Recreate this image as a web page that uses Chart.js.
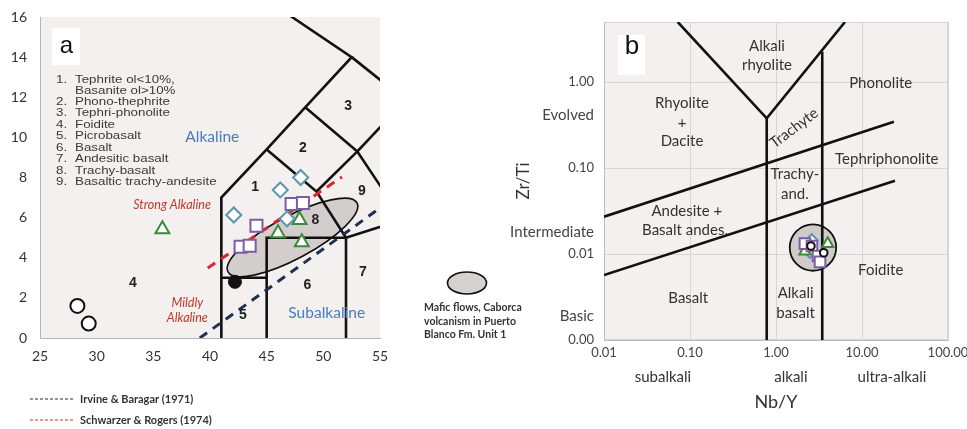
<!DOCTYPE html>
<html>
<head>
<meta charset="utf-8">
<script src="https://cdn.jsdelivr.net/npm/chart.js@4.4.1/dist/chart.umd.min.js"></script>
<style>
  html, body { margin: 0; padding: 0; background: #ffffff; width: 967px; height: 429px; overflow: hidden; }
  #tas { position: absolute; left: 0; top: 0; }
  #wf  { position: absolute; left: 490px; top: 0; }
</style>
</head>
<body>
<canvas id="tas" width="540" height="429"></canvas>
<canvas id="wf" width="477" height="429"></canvas>
<script>
// ---------------- Panel a: Na2O+K2O vs SiO2 (TAS) ----------------
const tasDiamonds  = [[42.1, 6.13], [46.2, 7.38], [48.0, 8.0], [46.8, 5.94]];
const tasSquares   = [[47.2, 6.68], [48.2, 6.73], [44.1, 5.6], [42.7, 4.55], [43.5, 4.6]];
const tasTriangles = [[35.8, 5.42], [46.0, 5.22], [47.9, 5.88], [48.1, 4.77]];
const tasCircles   = [[28.3, 1.6], [29.3, 0.72]];
const tasMean      = [[42.2, 2.8]];

// field boundaries (Le Bas et al.)
const tasBoundaries = [
  [[41, 0], [41, 7], [45, 9.4], [48.4, 11.5], [52.5, 14], [47.1, 16.05]],
  [[52.5, 14], [57.6, 11.7]],
  [[41, 3], [45, 3]],
  [[45, 0], [45, 5], [52, 5], [52, 0]],
  [[45, 9.4], [49.4, 7.3], [52, 5], [57, 5.9]],
  [[48.4, 11.5], [53, 9.3], [57, 11.7]],
  [[49.4, 7.3], [53, 9.3], [57, 5.9]]
];
const irvineBaragar   = [[39.1, 0], [55, 6.48]];
const schwarzerRogers = [[39.8, 3.49], [51.65, 8.03]];

// field of the Caborca mafic flows
const tasFieldCenter = [47.28, 5.01];
const tasFieldTip    = [52.97, 6.73];
const tasFieldAxisRatio = 0.29;

const tasXTicks = [25, 30, 35, 40, 45, 50, 55];
const tasYTicks = [0, 2, 4, 6, 8, 10, 12, 14, 16];

const tasFieldNames = [
  ['1.', 'Tephrite ol<10%,'],
  ['',   'Basanite ol>10%'],
  ['2.', 'Phono-thephrite'],
  ['3.', 'Tephri-phonolite'],
  ['4.', 'Foidite'],
  ['5.', 'Picrobasalt'],
  ['6.', 'Basalt'],
  ['7.', 'Andesitic basalt'],
  ['8.', 'Trachy-basalt'],
  ['9.', 'Basaltic trachy-andesite']
];
const tasFieldNumbers = [
  ['1', 43.98, 7.53], ['2', 48.2, 9.47], ['3', 52.2, 11.57],
  ['4', 33.2, 2.74], ['5', 42.9, 1.15], ['6', 48.6, 2.64],
  ['7', 53.5, 3.29], ['8', 49.3, 5.88], ['9', 53.4, 7.33]
];

// ---------------- Panel b: Zr/Ti vs Nb/Y ----------------
const nbySquares   = [[2.17, 0.0132], [2.62, 0.0124], [3.08, 0.0095], [3.25, 0.0081]];
const nbyDiamonds  = [[2.60, 0.01445], [2.48, 0.01057]];
const nbyTriangles = [[3.99, 0.0132], [2.17, 0.01076]];
const nbyCircles   = [[2.55, 0.0124], [3.59, 0.01035]];

const wfBoundaries = [
  [[0.072, 5], [0.78, 0.379], [6.34, 5]],
  [[0.78, 0.379], [0.78, 0.001]],
  [[3.45, 2.26], [3.45, 0.001]],
  [[0.01, 0.0272], [23.5, 0.346]],
  [[0.01, 0.0057], [24.2, 0.0713]]
];
const wfFieldCenter = [2.69, 0.0119];
const wfFieldRadiusDecades = 0.27;

// Nb/Y axis: decade values plus the alkalinity classes below them
const nbyTicks = [0.01, 0.0485, 0.1, 1, 1.49, 10, 22.3, 100];
const nbyTickLabels = ['0.01', ['', 'subalkali'], '0.10', '1.00', ['', 'alkali'], '10.00', ['', 'ultra-alkali'], '100.00'];
const zrTiTicks = [0.001, 0.0019, 0.01, 0.0182, 0.1, 0.414, 1];
const zrTiTickLabels = ['0.00', 'Basic', '0.01', 'Intermediate', '0.10', 'Evolved', '1.00'];

const wfFieldNames = [
  ['Alkali', 0.785, 2.65], ['rhyolite', 0.785, 1.58],
  ['Phonolite', 16.5, 0.984],
  ['Rhyolite', 0.0807, 0.576], ['+', 0.0807, 0.337], ['Dacite', 0.0807, 0.203],
  ['Tephriphonolite', 19.4, 0.127],
  ['Trachy-', 1.66, 0.0845], ['and.', 1.66, 0.0499],
  ['Andesite +', 0.0917, 0.0319], ['Basalt andes.', 0.0875, 0.0190],
  ['Foidite', 16.5, 0.00652],
  ['Basalt', 0.0955, 0.00310],
  ['Alkali', 1.69, 0.00349], ['basalt', 1.69, 0.00207]
];
const wfTrachyte = ['Trachyte', 1.62, 0.292];

// ---------------- shared styling ----------------
const SANS = "Lato, 'Open Sans', sans-serif";
const ARIAL = "'Liberation Sans', Arial, sans-serif";
const PLOT_BG = '#f3f0ef';
const C_DIAMOND = '#5b96aa';
const C_SQUARE = '#7d5ca6';
const C_TRIANGLE = '#3a8a3a';

const pts = arr => arr.map(p => ({ x: p[0], y: p[1] }));
const boundaryDataset = (seg, order) => ({
  type: 'line', data: pts(seg), showLine: true, borderColor: '#111', borderWidth: 2.6,
  pointRadius: 0, fill: false, tension: 0, order: order
});
const markerDataset = (arr, style, color, radius, order) => ({
  type: 'scatter', data: pts(arr), pointStyle: style, pointRadius: radius,
  pointBorderColor: color, pointBackgroundColor: '#ffffff', pointBorderWidth: 2,
  order: order
});

Chart.defaults.font.family = SANS;
Chart.defaults.animation = false;

// ---------------- panel a drawing ----------------
const tasDecor = {
  id: 'tasDecor',
  beforeDraw(chart) {
    const { ctx, chartArea: a } = chart;
    ctx.save();
    ctx.fillStyle = PLOT_BG;
    ctx.fillRect(a.left, a.top, a.width, a.height);
    ctx.restore();
  },
  beforeDatasetsDraw(chart) {
    const { ctx } = chart;
    const xs = chart.scales.x, ys = chart.scales.y;
    const cx = xs.getPixelForValue(tasFieldCenter[0]), cy = ys.getPixelForValue(tasFieldCenter[1]);
    const tx = xs.getPixelForValue(tasFieldTip[0]), ty = ys.getPixelForValue(tasFieldTip[1]);
    const r = Math.hypot(tx - cx, ty - cy), ang = Math.atan2(ty - cy, tx - cx);
    ctx.save();
    ctx.beginPath();
    ctx.ellipse(cx, cy, r, r * tasFieldAxisRatio, ang, 0, Math.PI * 2);
    ctx.fillStyle = '#d3cecb';
    ctx.fill();
    ctx.lineWidth = 1.6;
    ctx.strokeStyle = '#111';
    ctx.stroke();
    ctx.restore();
  },
  afterDatasetsDraw(chart) {
    const { ctx } = chart;
    const xs = chart.scales.x, ys = chart.scales.y;
    const X = v => xs.getPixelForValue(v), Y = v => ys.getPixelForValue(v);
    ctx.save();
    ctx.textAlign = 'center';
    ctx.textBaseline = 'middle';

    // panel letter
    ctx.fillStyle = '#ffffff';
    ctx.fillRect(52, 28, 28, 37);
    ctx.fillStyle = '#111';
    ctx.font = '24px ' + ARIAL;
    ctx.fillText('a', 66.5, 46);

    // field key (wide-set type)
    ctx.save();
    ctx.font = '10.5px ' + ARIAL;
    ctx.fillStyle = '#3a3a3a';
    ctx.textAlign = 'left';
    ctx.scale(1.27, 1);
    const rowY = [80, 91.5, 102, 113.5, 125, 136.5, 148, 159.5, 171, 182.5];
    tasFieldNames.forEach((row, i) => {
      ctx.fillText(row[0], 56 / 1.27, rowY[i]);
      ctx.fillText(row[1], 75 / 1.27, rowY[i]);
    });
    ctx.restore();

    // field numbers
    ctx.textAlign = 'center';
    ctx.font = 'bold 14px ' + ARIAL;
    ctx.fillStyle = '#222';
    tasFieldNumbers.forEach(f => ctx.fillText(f[0], X(f[1]), Y(f[2])));

    // series names
    ctx.font = '15.5px ' + SANS;
    ctx.fillStyle = '#4a7bbd';
    ctx.fillText('Alkaline', X(40.2), Y(10.02));
    ctx.fillText('Subalkaline', X(50.3), Y(1.25));
    ctx.font = 'italic 12.5px ' + SANS;
    ctx.fillStyle = '#c0392b';
    ctx.fillText('Strong Alkaline', X(36.65), Y(6.63));
    ctx.fillText('Mildly', X(38.0), Y(1.74));
    ctx.fillText('Alkaline', X(38.0), Y(1.0));

    // key for the grey field
    ctx.beginPath();
    ctx.ellipse(467, 283, 19.5, 11, 0, 0, Math.PI * 2);
    ctx.fillStyle = '#d6d2cf';
    ctx.fill();
    ctx.lineWidth = 1.6;
    ctx.strokeStyle = '#111';
    ctx.stroke();
    ctx.textAlign = 'left';
    ctx.font = 'bold 10.5px ' + SANS;
    ctx.fillStyle = '#333';
    ctx.fillText('Mafic flows, Caborca', 424, 308);
    ctx.fillText('volcanism in Puerto', 424, 321.5);
    ctx.fillText('Blanco Fm. Unit 1', 424, 335);

    // key for the dividing lines
    const keys = [['#1f2f4f', 'Irvine & Baragar (1971)', 399], ['#d0312d', 'Schwarzer & Rogers (1974)', 420]];
    keys.forEach(k => {
      ctx.beginPath();
      ctx.setLineDash([3, 2]);
      ctx.lineWidth = 1;
      ctx.strokeStyle = k[0];
      ctx.moveTo(30, k[2]);
      ctx.lineTo(73, k[2]);
      ctx.stroke();
      ctx.setLineDash([]);
      ctx.fillStyle = '#333';
      ctx.font = 'bold 11px ' + SANS;
      ctx.fillText(k[1], 80, k[2]);
    });
    ctx.restore();
  }
};

new Chart(document.getElementById('tas'), {
  type: 'scatter',
  data: {
    datasets: [
      markerDataset(tasDiamonds, 'rectRot', C_DIAMOND, 7.5, 0),
      markerDataset(tasSquares, 'rect', C_SQUARE, 8.5, 0),
      markerDataset(tasTriangles, 'triangle', C_TRIANGLE, 8, 0),
      markerDataset(tasCircles, 'circle', '#111', 7, 0),
      { type: 'scatter', data: pts(tasMean), pointRadius: 6.5, pointBackgroundColor: '#111', pointBorderColor: '#111', order: 0 },
      { type: 'line', data: pts(schwarzerRogers), borderColor: '#d9262b', borderWidth: 3, borderDash: [9, 7], pointRadius: 0, order: 1 },
      { type: 'line', data: pts(irvineBaragar), borderColor: '#1f3050', borderWidth: 3, borderDash: [9, 7], pointRadius: 0, order: 1 },
      ...tasBoundaries.map(seg => boundaryDataset(seg, 2))
    ]
  },
  options: {
    responsive: false,
    layout: { padding: { top: 17, right: 160, left: 0, bottom: 0 } },
    plugins: { legend: { display: false }, tooltip: { enabled: false } },
    scales: {
      x: {
        type: 'linear', min: 25, max: 55,
        afterBuildTicks: s => { s.ticks = tasXTicks.map(v => ({ value: v })); },
        afterFit: s => { s.height = 91; s.paddingLeft = 0; s.paddingRight = 0; },
        ticks: { color: '#333', font: { size: 14, family: SANS }, padding: 10, maxRotation: 0, autoSkip: false },
        grid: { display: false, drawTicks: false },
        border: { color: '#b5b5b5', width: 1 }
      },
      y: {
        type: 'linear', min: 0, max: 16,
        afterBuildTicks: s => { s.ticks = tasYTicks.map(v => ({ value: v })); },
        afterFit: s => { s.width = 40; s.paddingTop = 0; s.paddingBottom = 0; },
        ticks: { color: '#333', font: { size: 14, family: SANS }, padding: 13, autoSkip: false },
        grid: { display: false, drawTicks: false },
        border: { color: '#b5b5b5', width: 1 }
      }
    }
  },
  plugins: [tasDecor]
});

// ---------------- panel b drawing ----------------
const wfDecor = {
  id: 'wfDecor',
  beforeDraw(chart) {
    const { ctx, chartArea: a } = chart;
    ctx.save();
    ctx.fillStyle = PLOT_BG;
    ctx.fillRect(a.left, a.top, a.width, a.height);
    ctx.strokeStyle = '#d4d4d4';
    ctx.lineWidth = 1;
    ctx.strokeRect(a.left + 0.5, a.top + 0.5, a.width - 1, a.height - 1);
    ctx.restore();
  },
  beforeDatasetsDraw(chart) {
    const { ctx } = chart;
    const xs = chart.scales.x, ys = chart.scales.y;
    const cx = xs.getPixelForValue(wfFieldCenter[0]), cy = ys.getPixelForValue(wfFieldCenter[1]);
    const r = xs.getPixelForValue(wfFieldCenter[0] * Math.pow(10, wfFieldRadiusDecades)) - cx;
    ctx.save();
    ctx.beginPath();
    ctx.arc(cx, cy, r, 0, Math.PI * 2);
    ctx.fillStyle = '#d0cbc8';
    ctx.fill();
    ctx.lineWidth = 1.8;
    ctx.strokeStyle = '#111';
    ctx.stroke();
    ctx.restore();
  },
  afterDatasetsDraw(chart) {
    const { ctx } = chart;
    const xs = chart.scales.x, ys = chart.scales.y;
    const X = v => xs.getPixelForValue(v), Y = v => ys.getPixelForValue(v);
    ctx.save();
    ctx.fillStyle = '#ffffff';
    ctx.fillRect(128, 35, 27, 40);
    ctx.fillStyle = '#111';
    ctx.font = '26px ' + ARIAL;
    ctx.textAlign = 'center';
    ctx.textBaseline = 'middle';
    ctx.fillText('b', 142, 47);

    ctx.font = '15px ' + SANS;
    ctx.fillStyle = '#333';
    wfFieldNames.forEach(f => ctx.fillText(f[0], X(f[1]), Y(f[2])));
    ctx.translate(X(wfTrachyte[1]), Y(wfTrachyte[2]));
    ctx.rotate(-37 * Math.PI / 180);
    ctx.fillText(wfTrachyte[0], 0, 0);
    ctx.restore();
  }
};

const isDecade = v => Math.abs(Math.log10(v) - Math.round(Math.log10(v))) < 1e-6;

new Chart(document.getElementById('wf'), {
  type: 'scatter',
  data: {
    datasets: [
      markerDataset(nbyCircles, 'circle', '#111', 3.8, 0),
      markerDataset(nbySquares, 'rect', C_SQUARE, 7.5, 1),
      markerDataset(nbyTriangles, 'triangle', C_TRIANGLE, 6.5, 1),
      markerDataset(nbyDiamonds, 'rectRot', C_DIAMOND, 6, 2),
      ...wfBoundaries.map(seg => boundaryDataset(seg, 3))
    ]
  },
  options: {
    responsive: false,
    layout: { padding: { top: 22, right: 19, left: 0, bottom: 0 } },
    plugins: { legend: { display: false }, tooltip: { enabled: false } },
    scales: {
      x: {
        type: 'logarithmic', min: 0.01, max: 100, position: 'bottom',
        afterBuildTicks: s => { s.ticks = nbyTicks.map(v => ({ value: v })); },
        afterFit: s => { s.height = 89; s.paddingLeft = 0; s.paddingRight = 0; },
        ticks: {
          callback: (v, i) => nbyTickLabels[i],
          color: ctx => (ctx.tick && isDecade(ctx.tick.value)) ? '#444' : '#333',
          font: ctx => (ctx.tick && isDecade(ctx.tick.value))
            ? { size: 13, family: SANS }
            : { size: 15, family: SANS, lineHeight: 1.41 },
          padding: 5, maxRotation: 0, minRotation: 0, autoSkip: false
        },
        grid: {
          color: ctx => (ctx.tick && isDecade(ctx.tick.value)) ? '#d6d6d6' : 'rgba(0,0,0,0)',
          drawTicks: false
        },
        border: { color: '#bdbdbd' },
        title: { display: true, text: 'Nb/Y', color: '#333', font: { size: 18, family: SANS }, padding: { top: 0, bottom: 16 } }
      },
      y: {
        type: 'logarithmic', min: 0.001, max: 5,
        afterBuildTicks: s => { s.ticks = zrTiTicks.map(v => ({ value: v })); },
        afterFit: s => { s.width = 114; s.paddingTop = 0; s.paddingBottom = 0; },
        ticks: {
          callback: (v, i) => zrTiTickLabels[i],
          color: '#444',
          font: ctx => ({ size: (ctx.tick && isDecade(ctx.tick.value)) ? 13 : 15, family: SANS }),
          padding: 10, autoSkip: false
        },
        grid: {
          color: ctx => (ctx.tick && isDecade(ctx.tick.value)) ? '#d6d6d6' : 'rgba(0,0,0,0)',
          drawTicks: false
        },
        border: { color: '#bdbdbd' },
        title: { display: true, text: 'Zr/Ti', color: '#333', font: { size: 17, family: SANS }, padding: { top: 23, bottom: 0 } }
      }
    }
  },
  plugins: [wfDecor]
});
</script>
</body>
</html>
